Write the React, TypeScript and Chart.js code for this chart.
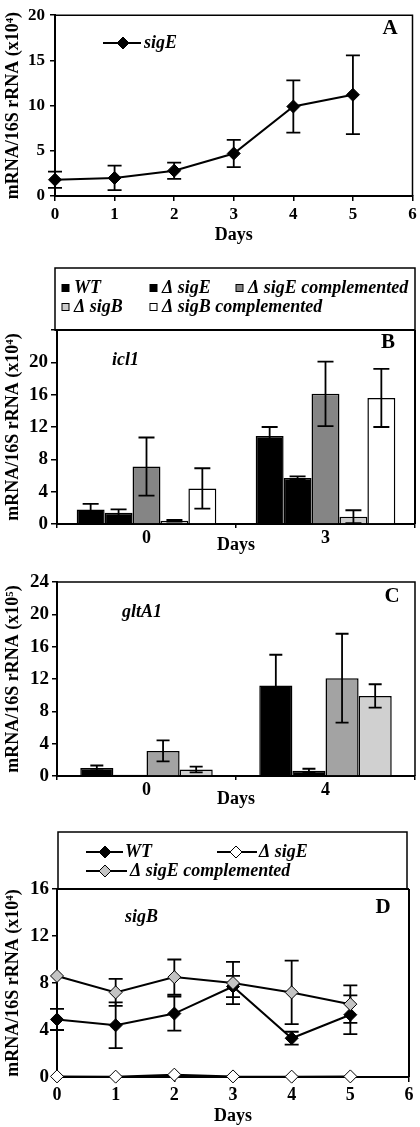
import React, { useEffect, useRef } from 'react';
import { Chart, registerables } from 'chart.js';

Chart.register(...registerables);

const SERIF = '"Liberation Serif", "Times New Roman", Times, serif';
Chart.defaults.font.family = SERIF;
Chart.defaults.color = '#000';

// ---------------- Panel A ----------------
const daysA = [0, 1, 2, 3, 4, 5];
const sigE_A = [1.8, 2.0, 2.8, 4.7, 9.9, 11.2];
const sigE_A_err = [0.9, 1.35, 0.9, 1.5, 2.9, 4.35];
const xTicksA = [0, 1, 2, 3, 4, 5, 6];
const yTicksA = [0, 5, 10, 15, 20];

// ---------------- Panel B ----------------
const catsB = ['0', '3'];
const B_WT = [1.8, 10.9];
const B_WT_err = [0.7, 1.1];
const B_sigE = [1.4, 5.7];
const B_sigE_err = [0.4, 0.2];
const B_sigEc = [7.1, 16.1];
const B_sigEc_err = [3.6, 4.0];
const B_sigB = [0.4, 0.9];
const B_sigB_err = [0.1, 0.8];
const B_sigBc = [4.4, 15.6];
const B_sigBc_err = [2.5, 3.6];
const yTicksB = [0, 4, 8, 12, 16, 20, 24];
const yLabelsB = ['0', '4', '8', '12', '16', '20', ''];

// ---------------- Panel C ----------------
const catsC = ['0', '4'];
const C_WT = [1.0, 11.2];
const C_WT_err = [0.3, 3.8];
const C_sigE = [0.15, 0.65];
const C_sigE_err = [0, 0.25];
const C_sigEc = [3.1, 12.1];
const C_sigEc_err = [1.3, 5.5];
const C_sigB = [0.8, 9.9];
const C_sigB_err = [0.35, 1.45];
const yTicksC = [0, 4, 8, 12, 16, 20, 24];

// ---------------- Panel D ----------------
const daysD = [0, 1, 2, 3, 4, 5];
const D_WT = [4.9, 4.4, 5.4, 7.7, 3.3, 5.3];
const D_WT_err = [0.9, 1.95, 1.45, 0.9, 0.55, 1.65];
const D_sigE = [0.05, 0.03, 0.2, 0.05, 0.03, 0.05];
const D_sigEc = [8.6, 7.2, 8.5, 8.0, 7.2, 6.2];
const D_sigEc_err = [0, 1.15, 1.5, 1.8, 2.7, 1.6];
const xTicksD = [0, 1, 2, 3, 4, 5, 6];
const yTicksD = [0, 4, 8, 12, 16];

// ---------------- helpers ----------------
function diamond(ctx: CanvasRenderingContext2D, x: number, y: number, r: number, fill: string) {
  ctx.beginPath();
  ctx.moveTo(x, y - r);
  ctx.lineTo(x + r, y);
  ctx.lineTo(x, y + r);
  ctx.lineTo(x - r, y);
  ctx.closePath();
  ctx.fillStyle = fill;
  ctx.fill();
  ctx.lineWidth = 1;
  ctx.strokeStyle = '#000';
  ctx.stroke();
}

function errorPlugin(sets: (number[] | null)[], capWidth: number, behind: boolean) {
  const draw = (chart: any) => {
    const { ctx } = chart;
    const ys = chart.scales.y;
    ctx.save();
    ctx.strokeStyle = '#000';
    ctx.lineWidth = 1.8;
    sets.forEach((errs, di) => {
      if (!errs) return;
      const meta = chart.getDatasetMeta(di);
      const ds = chart.data.datasets[di];
      meta.data.forEach((el: any, j: number) => {
        const e = errs[j];
        if (!e) return;
        const raw = ds.data[j];
        const v = typeof raw === 'number' ? raw : raw.y;
        const yt = ys.getPixelForValue(v + e);
        const yb = ys.getPixelForValue(Math.max(ys.min, v - e));
        const x = el.x;
        const hw = capWidth / 2;
        ctx.beginPath();
        ctx.moveTo(x, yt);
        ctx.lineTo(x, yb);
        ctx.moveTo(x - hw, yt);
        ctx.lineTo(x + hw, yt);
        ctx.moveTo(x - hw, yb);
        ctx.lineTo(x + hw, yb);
        ctx.stroke();
      });
    });
    ctx.restore();
  };
  return {
    id: 'errorBars',
    beforeDatasetsDraw(chart: any) { if (behind) draw(chart); },
    afterDatasetsDraw(chart: any) { if (!behind) draw(chart); },
  };
}

type LegendItem = {
  ds: number;
  kind: 'swatch' | 'line';
  y: number;
  x: number;
  x1?: number;
  mx?: number;
  tx: number;
};

type Decor = {
  frame?: boolean;
  legendBox?: { left: number; right: number; top: number };
  items?: LegendItem[];
  letter?: { text: string; x: number; y: number };
  gene?: { text: string; x: number; y: number };
};

function decorPlugin(cfg: Decor) {
  return {
    id: 'decor',
    afterDraw(chart: any) {
      const { ctx, chartArea: ca } = chart;
      ctx.save();
      ctx.strokeStyle = '#000';
      if (cfg.frame) {
        ctx.lineWidth = 1.5;
        ctx.beginPath();
        ctx.moveTo(ca.left, ca.top);
        ctx.lineTo(ca.right, ca.top);
        ctx.lineTo(ca.right, ca.bottom);
        ctx.stroke();
      }
      if (cfg.legendBox) {
        const b = cfg.legendBox;
        ctx.lineWidth = 1.5;
        ctx.strokeRect(b.left, b.top, b.right - b.left, ca.top - b.top);
        ctx.lineWidth = 2;
        ctx.beginPath();
        ctx.moveTo(b.left, ca.top);
        ctx.lineTo(Math.max(b.right, ca.right), ca.top);
        ctx.moveTo(ca.right, ca.top);
        ctx.lineTo(ca.right, ca.bottom);
        ctx.stroke();
      }
      (cfg.items || []).forEach((it) => {
        const ds = chart.data.datasets[it.ds];
        if (it.kind === 'swatch') {
          ctx.fillStyle = ds.backgroundColor;
          ctx.fillRect(it.x, it.y - 3.5, 7, 7);
          ctx.lineWidth = 1;
          ctx.strokeRect(it.x, it.y - 3.5, 7, 7);
        } else {
          ctx.lineWidth = 2;
          ctx.beginPath();
          ctx.moveTo(it.x, it.y);
          ctx.lineTo(it.x1 as number, it.y);
          ctx.stroke();
          diamond(ctx, it.mx as number, it.y, 6, ds.pointBackgroundColor);
        }
        ctx.fillStyle = '#000';
        ctx.font = `italic bold 18px ${SERIF}`;
        ctx.textAlign = 'left';
        ctx.textBaseline = 'middle';
        ctx.fillText(ds.label, it.tx, it.y);
      });
      if (cfg.letter) {
        ctx.fillStyle = '#000';
        ctx.font = `bold 21px ${SERIF}`;
        ctx.textAlign = 'center';
        ctx.textBaseline = 'middle';
        ctx.fillText(cfg.letter.text, cfg.letter.x, cfg.letter.y);
      }
      if (cfg.gene) {
        ctx.fillStyle = '#000';
        ctx.font = `italic bold 18px ${SERIF}`;
        ctx.textAlign = 'left';
        ctx.textBaseline = 'middle';
        ctx.fillText(cfg.gene.text, cfg.gene.x, cfg.gene.y);
      }
      ctx.restore();
    },
  };
}

function yScale(ticks: number[], labels: string[], width: number, size: number, title: string, tickLen: number, pad: number) {
  return {
    type: 'linear',
    min: ticks[0],
    max: ticks[ticks.length - 1],
    afterBuildTicks: (s: any) => { s.ticks = ticks.map((v) => ({ value: v })); },
    ticks: {
      font: { family: SERIF, weight: 'bold', size },
      color: '#000',
      padding: pad,
      callback: (v: number) => { const i = ticks.indexOf(v); return i >= 0 ? labels[i] : ''; },
    },
    grid: { drawOnChartArea: false, drawTicks: true, tickLength: tickLen, color: '#000', lineWidth: 1.5 },
    border: { display: true, color: '#000', width: 2 },
    title: { display: true, text: title, font: { family: SERIF, weight: 'bold', size: 18 }, color: '#000', padding: { top: 3, bottom: 0 } },
    afterFit: (s: any) => { s.width = width; },
  };
}

function xLinear(ticks: number[], height: number, size: number, pad: number, titlePad: number) {
  return {
    type: 'linear',
    min: ticks[0],
    max: ticks[ticks.length - 1],
    offset: false,
    afterBuildTicks: (s: any) => { s.ticks = ticks.map((v) => ({ value: v })); },
    ticks: { font: { family: SERIF, weight: 'bold', size }, color: '#000', padding: pad, maxRotation: 0, callback: (v: number) => String(v) },
    grid: { drawOnChartArea: false, drawTicks: true, tickLength: 5, color: '#000', lineWidth: 1.5 },
    border: { display: true, color: '#000', width: 2 },
    title: { display: true, text: 'Days', font: { family: SERIF, weight: 'bold', size: 18 }, color: '#000', padding: { top: 0, bottom: titlePad } },
    afterFit: (s: any) => { s.height = height; },
  };
}

function xCategory(height: number, size: number, titlePad: number) {
  return {
    type: 'category',
    offset: true,
    ticks: { font: { family: SERIF, weight: 'bold', size }, color: '#000', padding: 0, maxRotation: 0 },
    grid: { offset: true, drawOnChartArea: false, drawTicks: true, tickLength: 4, color: '#000', lineWidth: 1.5 },
    border: { display: true, color: '#000', width: 2 },
    title: { display: true, text: 'Days', font: { family: SERIF, weight: 'bold', size: 18 }, color: '#000', padding: { top: 0, bottom: titlePad } },
    afterFit: (s: any) => { s.height = height; },
  };
}

const baseOptions = (padding: any) => ({
  responsive: false,
  maintainAspectRatio: false,
  animation: false,
  devicePixelRatio: 1,
  layout: { padding },
  plugins: { legend: { display: false }, tooltip: { enabled: false } },
  events: [],
});

const pts = (xs: number[], ys: number[]) => xs.map((x, i) => ({ x, y: ys[i] }));

const lineDs = (label: string, data: any, fill: string, order: number) => ({
  label,
  data,
  borderColor: '#000',
  borderWidth: 2,
  pointStyle: 'rectRot',
  pointRadius: 6.5,
  pointBackgroundColor: fill,
  pointBorderColor: '#000',
  pointBorderWidth: 1,
  tension: 0,
  clip: false,
  order,
});

const barDs = (label: string, data: number[], fill: string, pct: number) => ({
  label,
  data,
  backgroundColor: fill,
  borderColor: '#000',
  borderWidth: 1.5,
  barPercentage: 1,
  categoryPercentage: pct,
});

// ---------------- chart builders ----------------
const buildA = () => ({
  type: 'line',
  data: { datasets: [lineDs('sigE', pts(daysA, sigE_A), '#000', 0)] },
  options: {
    ...baseOptions({ left: 0, right: 5, top: 9, bottom: 0 }),
    scales: {
      x: xLinear(xTicksA, 50, 17, 3, 0),
      y: yScale(yTicksA, yTicksA.map(String), 55, 17, 'mRNA/16S rRNA (x10⁴)', 5, 5),
    },
  },
  plugins: [
    errorPlugin([sigE_A_err], 14, true),
    decorPlugin({
      frame: true,
      items: [{ ds: 0, kind: 'line', x: 103, x1: 141, mx: 123, tx: 144, y: 43 }],
      letter: { text: 'A', x: 390, y: 29 },
    }),
  ],
});

const buildB = () => ({
  type: 'bar',
  data: {
    labels: catsB,
    datasets: [
      barDs('WT', B_WT, '#000000', 0.78),
      barDs('Δ sigE', B_sigE, '#000000', 0.78),
      barDs('Δ sigE complemented', B_sigEc, '#858585', 0.78),
      barDs('Δ sigB', B_sigB, '#cccccc', 0.78),
      barDs('Δ sigB complemented', B_sigBc, '#ffffff', 0.78),
    ],
  },
  options: {
    ...baseOptions({ left: 0, right: 5, top: 84, bottom: 0 }),
    scales: {
      x: xCategory(34, 18, 2),
      y: yScale(yTicksB, yLabelsB, 57, 19, 'mRNA/16S rRNA (x10⁴)', 6, 3),
    },
  },
  plugins: [
    errorPlugin([B_WT_err, B_sigE_err, B_sigEc_err, B_sigB_err, B_sigBc_err], 16, false),
    decorPlugin({
      legendBox: { left: 55, right: 415, top: 22 },
      items: [
        { ds: 0, kind: 'swatch', x: 62, tx: 74, y: 42 },
        { ds: 1, kind: 'swatch', x: 150, tx: 162, y: 42 },
        { ds: 2, kind: 'swatch', x: 236, tx: 248, y: 42 },
        { ds: 3, kind: 'swatch', x: 62, tx: 74, y: 61 },
        { ds: 4, kind: 'swatch', x: 150, tx: 162, y: 61 },
      ],
      letter: { text: 'B', x: 388, y: 97 },
      gene: { text: 'icl1', x: 112, y: 114 },
    }),
  ],
});

const buildC = () => ({
  type: 'bar',
  data: {
    labels: catsC,
    datasets: [
      barDs('WT', C_WT, '#000000', 0.74),
      barDs('Δ sigE', C_sigE, '#000000', 0.74),
      barDs('Δ sigE complemented', C_sigEc, '#a3a3a3', 0.74),
      barDs('Δ sigB', C_sigB, '#d0d0d0', 0.74),
    ],
  },
  options: {
    ...baseOptions({ left: 0, right: 5, top: 24, bottom: 0 }),
    scales: {
      x: xCategory(34, 18, 0),
      y: yScale(yTicksC, yTicksC.map(String), 57, 19, 'mRNA/16S rRNA (x10⁵)', 5, 3),
    },
  },
  plugins: [
    errorPlugin([C_WT_err, C_sigE_err, C_sigEc_err, C_sigB_err], 13, false),
    decorPlugin({
      frame: true,
      letter: { text: 'C', x: 392, y: 39 },
      gene: { text: 'gltA1', x: 122, y: 54 },
    }),
  ],
});

const buildD = () => ({
  type: 'line',
  data: {
    datasets: [
      lineDs('WT', pts(daysD, D_WT), '#000000', 1),
      lineDs('Δ sigE', pts(daysD, D_sigE), '#ffffff', 2),
      lineDs('Δ sigE complemented', pts(daysD, D_sigEc), '#c4c4c4', 0),
    ],
  },
  options: {
    ...baseOptions({ left: 0, right: 11, top: 79, bottom: 0 }),
    scales: {
      x: xLinear(xTicksD, 50, 18, 3, 0),
      y: yScale(yTicksD, yTicksD.map(String), 57, 19, 'mRNA/16S rRNA (x10⁴)', 5, 3),
    },
  },
  plugins: [
    errorPlugin([D_WT_err, null, D_sigEc_err], 14, true),
    decorPlugin({
      legendBox: { left: 58, right: 407, top: 22 },
      items: [
        { ds: 0, kind: 'line', x: 86, x1: 123, mx: 105, tx: 125, y: 42 },
        { ds: 1, kind: 'line', x: 217, x1: 257, mx: 236, tx: 259, y: 42 },
        { ds: 2, kind: 'line', x: 86, x1: 127, mx: 105, tx: 130, y: 61 },
      ],
      letter: { text: 'D', x: 383, y: 98 },
      gene: { text: 'sigB', x: 125, y: 107 },
    }),
  ],
});

function Panel({ top, height, build }: { top: number; height: number; build: () => any }) {
  const ref = useRef<HTMLCanvasElement>(null);
  useEffect(() => {
    if (!ref.current) return;
    const chart = new Chart(ref.current, build());
    return () => chart.destroy();
  }, []);
  return (
    <div style={{ position: 'absolute', left: 0, top, width: 420, height }}>
      <canvas ref={ref} width={420} height={height} style={{ display: 'block', width: 420, height }} />
    </div>
  );
}

export default function App() {
  return (
    <div style={{ position: 'absolute', left: 0, top: 0, width: 420, height: 1127, background: '#fff', overflow: 'hidden' }}>
      <Panel top={0} height={246} build={buildA} />
      <Panel top={246} height={312} build={buildB} />
      <Panel top={558} height={252} build={buildC} />
      <Panel top={810} height={317} build={buildD} />
    </div>
  );
}
